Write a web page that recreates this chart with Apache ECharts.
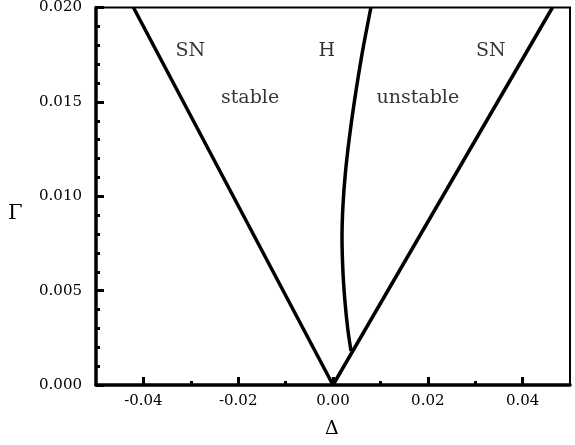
<!DOCTYPE html>
<html>
<head>
<meta charset="utf-8">
<script src="https://cdn.jsdelivr.net/npm/echarts@6/dist/echarts.min.js"></script>
<style>
    html, body { margin: 0; padding: 0; background: #fff; }
    #chart { width: 575px; height: 445px; }
</style>
</head>
<body>
<div id="chart"></div>
<script>

// saddle-node boundaries (Delta, Gamma)
const snLeft = [[0, 0], [-0.0421, 0.020]];
const snRight = [[0, 0], [0.0463, 0.020]];

// Hopf curve
const hopf = [
    [0.0038, 0.0018], [0.0031, 0.0030], [0.0025, 0.0045], [0.0021, 0.0060],
    [0.0019, 0.0078], [0.0021, 0.0095], [0.0026, 0.0112], [0.0034, 0.0130],
    [0.0045, 0.0150], [0.0061, 0.0175], [0.0080, 0.0200]
];

const xMajorTicks = [-0.04, -0.02, 0, 0.02, 0.04];
const xMinorTicks = [-0.03, -0.01, 0.01, 0.03];

const regionLabels = [
    { text: 'SN', value: [-0.0301, 0.0177] },
    { text: 'H', value: [-0.0013, 0.0177] },
    { text: 'SN', value: [0.0333, 0.0177] },
    { text: 'stable', value: [-0.0175, 0.0152] },
    { text: 'unstable', value: [0.0179, 0.0152] }
];

const font = 'DejaVu Serif';

const chart = echarts.init(document.getElementById('chart'));

const lineSeries = (data, smooth) => ({
    type: 'line',
    data: data,
    smooth: smooth,
    symbol: 'none',
    lineStyle: { color: '#000', width: 3.5 },
    xAxisIndex: 0,
    yAxisIndex: 0,
    z: 3
});

chart.setOption({
    animation: false,
    grid: {
        left: 96, right: 5, top: 5, bottom: 60,
        show: true, borderColor: '#000', borderWidth: 2
    },
    xAxis: [
        {
            type: 'value',
            min: -0.05,
            max: 0.05,
            axisLine: { show: true, onZero: false, lineStyle: { color: '#000', width: 3.5 } },
            axisTick: { show: true, inside: true, length: 8, customValues: xMajorTicks, lineStyle: { color: '#000', width: 3 } },
            axisLabel: {
                customValues: xMajorTicks,
                margin: 9,
                color: '#000',
                fontFamily: font,
                fontSize: 15,
                formatter: (v) => v.toFixed(2)
            },
            splitLine: { show: false }
        },
        {
            type: 'value',
            position: 'bottom',
            min: -0.05,
            max: 0.05,
            axisLine: { show: false },
            axisTick: { show: true, inside: true, length: 4, customValues: xMinorTicks, lineStyle: { color: '#000', width: 3 } },
            axisLabel: { show: false },
            splitLine: { show: false }
        }
    ],
    yAxis: {
        type: 'value',
        min: 0,
        max: 0.020,
        interval: 0.005,
        axisLine: { show: true, onZero: false, lineStyle: { color: '#000', width: 3.5 } },
        axisTick: { show: true, inside: true, length: 8, lineStyle: { color: '#000', width: 3 } },
        minorTick: { show: true, splitNumber: 5, length: 4, lineStyle: { color: '#000', width: 3 } },
        axisLabel: {
            margin: 14,
            color: '#000',
            fontFamily: font,
            fontSize: 15,
            formatter: (v) => v.toFixed(3)
        },
        splitLine: { show: false }
    },
    graphic: [
        { type: 'text', left: 8, top: 203, style: { text: 'Γ', font: '21px "DejaVu Serif"', fill: '#000' } },
        { type: 'text', left: 325, top: 420, style: { text: 'Δ', font: '19px "DejaVu Serif"', fill: '#000' } }
    ],
    series: [
        lineSeries(snLeft, false),
        lineSeries(snRight, false),
        lineSeries(hopf, 0.3),
        {
            type: 'scatter',
            symbolSize: 0,
            data: regionLabels.map((d) => ({ value: d.value, name: d.text })),
            label: {
                show: true,
                position: 'inside',
                formatter: '{b}',
                color: '#000',
                fontFamily: font,
                fontSize: 19
            },
            z: 4
        }
    ]
});

</script>
</body>
</html>
